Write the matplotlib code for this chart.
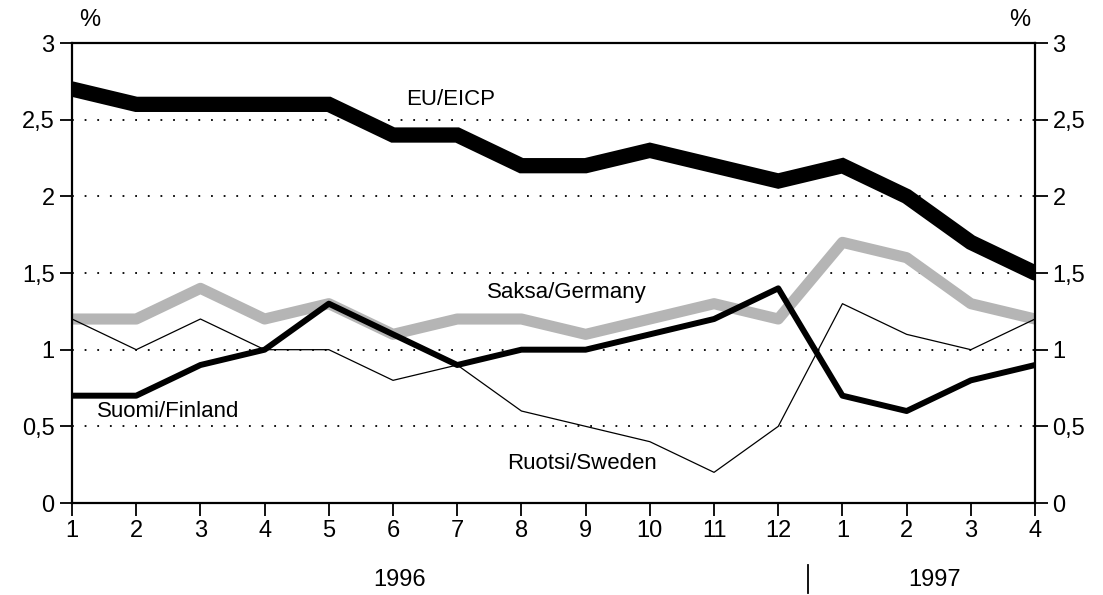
import matplotlib.pyplot as plt
import numpy as np

plt.rcParams['font.family'] = ['Liberation Sans', 'DejaVu Sans']

months = [1, 2, 3, 4, 5, 6, 7, 8, 9, 10, 11, 12, 1, 2, 3, 4]
eu = [2.7, 2.6, 2.6, 2.6, 2.6, 2.4, 2.4, 2.2, 2.2, 2.3, 2.2, 2.1, 2.2, 2.0, 1.7, 1.5]
germany = [1.2, 1.2, 1.4, 1.2, 1.3, 1.1, 1.2, 1.2, 1.1, 1.2, 1.3, 1.2, 1.7, 1.6, 1.3, 1.2]
finland = [0.7, 0.7, 0.9, 1.0, 1.3, 1.1, 0.9, 1.0, 1.0, 1.1, 1.2, 1.4, 0.7, 0.6, 0.8, 0.9]
sweden = [1.2, 1.0, 1.2, 1.0, 1.0, 0.8, 0.9, 0.6, 0.5, 0.4, 0.2, 0.5, 1.3, 1.1, 1.0, 1.2]
yticks = [0, 0.5, 1, 1.5, 2, 2.5, 3]

x = np.arange(1, len(months) + 1)

fig = plt.figure(figsize=(11.03, 5.95), dpi=100)
ax = fig.add_axes([0.0653, 0.1546, 0.8731, 0.7731])

for y in yticks[1:-1]:
    ax.axhline(y, color='black', lw=1.3, ls=(0, (1, 6)), zorder=0)

ax.plot(x, germany, color='#b5b5b5', lw=8, solid_capstyle='round', zorder=2)
ax.plot(x, sweden, color='black', lw=0.9, zorder=3)
ax.plot(x, finland, color='black', lw=4.3, solid_capstyle='round', zorder=4)
ax.plot(x, eu, color='black', lw=11, solid_capstyle='round', solid_joinstyle='miter', zorder=5)

ax.set_xlim(1, 16)
ax.set_ylim(0, 3)
ax.set_xticks(x)
ax.set_xticklabels([str(m) for m in months])
ax.set_yticks(yticks)
lbls = [f'{v:g}'.replace('.', ',') for v in yticks]
ax.set_yticklabels(lbls)
ax.tick_params(axis='both', labelsize=17, direction='out', length=9, width=1.3)
ax.tick_params(axis='y', right=True, labelright=True)
for s in ax.spines.values():
    s.set_linewidth(1.6)

ax.text(6.9, 2.63, 'EU/EICP', fontsize=16, ha='center', va='center')
ax.text(8.7, 1.37, 'Saksa/Germany', fontsize=16, ha='center', va='center')
ax.text(2.5, 0.6, 'Suomi/Finland', fontsize=16, ha='center', va='center')
ax.text(8.95, 0.26, 'Ruotsi/Sweden', fontsize=16, ha='center', va='center')

fig.text(90 / 1103, 1 - 20 / 595, '%', fontsize=17, ha='center', va='center')
fig.text(1020 / 1103, 1 - 20 / 595, '%', fontsize=17, ha='center', va='center')
fig.text(400 / 1103, 1 - 580 / 595, '1996', fontsize=17, ha='center', va='center')
fig.text(935 / 1103, 1 - 580 / 595, '1997', fontsize=17, ha='center', va='center')
fig.add_artist(plt.Line2D([808 / 1103, 808 / 1103], [1 - 565 / 595, 1 - 593 / 595],
                          color='black', lw=1.3, transform=fig.transFigure))

fig.savefig('out.png', dpi=100)
